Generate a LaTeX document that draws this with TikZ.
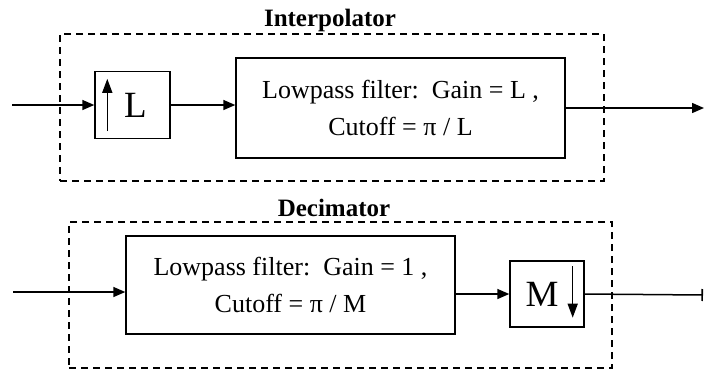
\documentclass[tikz,border=0pt]{standalone}
\usepackage{fontspec}
\setmainfont{Liberation Serif}
\usetikzlibrary{arrows.meta}
\begin{document}
\begin{tikzpicture}[x=1pt,y=-1pt,
  blk/.style={draw, line width=1.4pt, inner sep=0pt, align=center,
    font=\fontsize{26}{37}\selectfont},
  bigsym/.style={blk, font=\fontsize{37}{40}\selectfont},
  dbox/.style={draw, line width=1.3pt, dash pattern=on 7pt off 5pt, inner sep=0pt},
  ttl/.style={anchor=base, font=\fontsize{25}{28}\selectfont\bfseries},
  sig/.style={line width=1.5pt, -{Triangle[length=12pt,width=10pt]}},
  endbar/.style={line width=1.5pt, -{Bar[width=12pt,line width=1.6pt]}},
  symarrow/.style={line width=1.5pt, -{Triangle[length=14pt,width=10pt]}}]
\useasboundingbox (0,0) rectangle (705,376);

% ---------- Interpolator ----------
\node[dbox, minimum width=544pt, minimum height=147pt] (ibox) at (332,107.5) {};
\node[ttl] (ititle) at (330,26) {Interpolator};
\node[bigsym, minimum width=75pt, minimum height=67pt] (up) at (132.5,105) {\hspace{6pt}L};
\node[blk, minimum width=329pt, minimum height=100pt] (lpf1) at (400.5,108)
  {Lowpass filter:\ \ Gain = L ,\\Cutoff = π / L};
\coordinate (in1) at (12,105);
\coordinate (out1) at (704,108);
\draw[sig] (in1) -- (up.west);
\draw[sig] (up.east) -- (up.east -| lpf1.west);
\draw[sig] (lpf1.east |- out1) -- (out1);
\draw[symarrow] ([xshift=13pt,yshift=8pt]up.south west) -- ([xshift=13pt,yshift=-8pt]up.north west);

% ---------- Decimator ----------
\node[dbox, minimum width=543pt, minimum height=146pt] (dbx) at (340.5,295) {};
\node[ttl] (dtitle) at (334,216) {Decimator};
\node[blk, minimum width=329pt, minimum height=98pt] (lpf2) at (290.5,285)
  {Lowpass filter:\ \ Gain = 1 ,\\Cutoff = π / M};
\node[bigsym, minimum width=74pt, minimum height=66pt] (m) at (547,294) {M\hspace{10pt}};
\coordinate (in2) at (13,292);
\coordinate (out2) at (703,295);
\draw[sig] (in2) -- (in2 -| lpf2.west);
\draw[sig] (m.west -| lpf2.east) -- (m.west);
\draw[endbar] (m.east) -- (out2);
\draw[symarrow] ([xshift=-12pt,yshift=-6pt]m.north east) -- ([xshift=-12pt,yshift=10pt]m.south east);
\end{tikzpicture}
\end{document}
